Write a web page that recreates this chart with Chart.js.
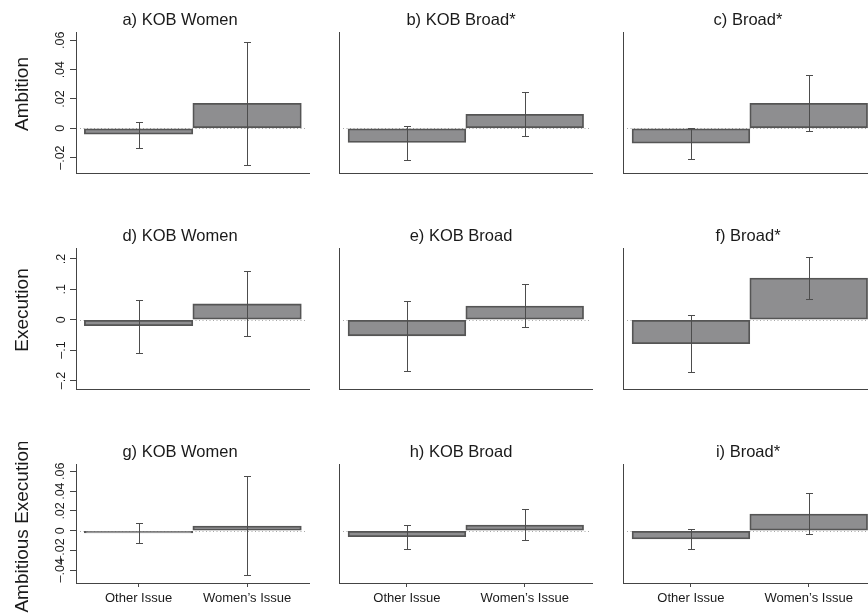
<!DOCTYPE html>
<html>
<head>
<meta charset="utf-8">
<script src="https://cdn.jsdelivr.net/npm/chart.js@4"></script>
<style>
  html, body { margin: 0; padding: 0; background: #fff; }
  body { width: 868px; height: 613px; position: relative; overflow: hidden; }
  canvas { position: absolute; }
</style>
</head>
<body>
<script>
// data
const categories = ['Other Issue', "Women\u2019s Issue"];
const rowTitles = ['Ambition', 'Execution', 'Ambitious Execution'];
const panelTitles = [
  ['a) KOB Women', 'b) KOB Broad*', 'c) Broad*'],
  ['d) KOB Women', 'e) KOB Broad', 'f) Broad*'],
  ['g) KOB Women', 'h) KOB Broad', 'i) Broad*']
];

// each entry: [Other Issue, Women's Issue], one pair per column
const ambitionEst = [[-0.004, 0.017], [-0.0096, 0.0096], [-0.0102, 0.0171]];
const ambitionLo = [[-0.0132, -0.025], [-0.0216, -0.0053], [-0.0212, -0.0016]];
const ambitionHi = [[0.0045, 0.059], [0.0018, 0.025], [0.0004, 0.0362]];

const executionEst = [[-0.02, 0.052], [-0.053, 0.045], [-0.079, 0.137]];
const executionLo = [[-0.111, -0.053], [-0.170, -0.024], [-0.172, 0.067]];
const executionHi = [[0.066, 0.159], [0.0615, 0.116], [0.014, 0.208]];

const ambExecEst = [[-0.0023, 0.0047], [-0.006, 0.0058], [-0.0084, 0.0169]];
const ambExecLo = [[-0.0124, -0.0447], [-0.0185, -0.009], [-0.0189, -0.0033]];
const ambExecHi = [[0.0078, 0.055], [0.0058, 0.0215], [0.0017, 0.0377]];

const ambitionTicks = [-0.02, 0, 0.02, 0.04, 0.06];
const ambitionTickLabels = ['\u2013.02', '0', '.02', '.04', '.06'];
const executionTicks = [-0.2, -0.1, 0, 0.1, 0.2];
const executionTickLabels = ['\u2013.2', '\u2013.1', '0', '.1', '.2'];
const ambExecTicks = [-0.04, -0.02, 0, 0.02, 0.04, 0.06];
const ambExecTickLabels = ['\u2013.04', '\u2013.02', '0', '.02', '.04', '.06'];

const rows = [
  { est: ambitionEst, lo: ambitionLo, hi: ambitionHi, ticks: ambitionTicks, labels: ambitionTickLabels },
  { est: executionEst, lo: executionLo, hi: executionHi, ticks: executionTicks, labels: executionTickLabels },
  { est: ambExecEst, lo: ambExecLo, hi: ambExecHi, ticks: ambExecTicks, labels: ambExecTickLabels }
];

// layout (page pixels)
const FONT = '"Liberation Sans", Arial, Helvetica, sans-serif';
const rowBox = [
  { top: 32, bottom: 173, min: -0.0305, max: 0.0657, tickPad: -3, labelDy: -8.5 },
  { top: 248, bottom: 389, min: -0.228, max: 0.236, tickPad: 0, labelDy: -8.5 },
  { top: 464, bottom: 583, min: -0.0528, max: 0.0674, tickPad: -3, labelDy: 3 }
];
// canvasLeft: where the canvas starts; titleX: centre of the panel title
const colBox = [
  { left: 76, right: 310, canvasLeft: 0, titleX: 180 },
  { left: 339, right: 593, canvasLeft: 329, titleX: 461 },
  { left: 623, right: 877, canvasLeft: 613, titleX: 748 }
];
const TITLE_H = 22;

// plugins
const zeroLine = {
  id: 'zeroLine',
  beforeDatasetsDraw(chart) {
    const { ctx, chartArea, scales: { y } } = chart;
    const py = Math.round(y.getPixelForValue(0)) + 0.5;
    ctx.save();
    ctx.strokeStyle = '#a8a8a8';
    ctx.lineWidth = 1;
    ctx.setLineDash([1, 2.5]);
    ctx.beginPath();
    ctx.moveTo(chartArea.left + 4, py);
    ctx.lineTo(chartArea.right - 4, py);
    ctx.stroke();
    ctx.restore();
  }
};

const errorBars = {
  id: 'errorBars',
  afterDatasetsDraw(chart) {
    const { ctx, scales: { x, y } } = chart;
    const ds = chart.data.datasets[0];
    ctx.save();
    ctx.strokeStyle = '#4d4d4d';
    ctx.lineWidth = 1;
    ds.errLo.forEach((lo, i) => {
      const px = Math.round(x.getPixelForValue(i)) + 0.5;
      const yl = Math.round(y.getPixelForValue(lo)) + 0.5;
      const yh = Math.round(y.getPixelForValue(ds.errHi[i])) + 0.5;
      ctx.beginPath();
      ctx.moveTo(px, yl); ctx.lineTo(px, yh);
      ctx.moveTo(px - 3.5, yl); ctx.lineTo(px + 3.5, yl);
      ctx.moveTo(px - 3.5, yh); ctx.lineTo(px + 3.5, yh);
      ctx.stroke();
    });
    ctx.restore();
  }
};

const rowLabel = {
  id: 'rowLabel',
  afterDraw(chart, args, opts) {
    if (!opts.text) return;
    const { ctx, chartArea } = chart;
    ctx.save();
    ctx.translate(opts.x, (chartArea.top + chartArea.bottom) / 2 + opts.dy);
    ctx.rotate(-Math.PI / 2);
    ctx.font = '19px ' + FONT;
    ctx.fillStyle = '#1a1a1a';
    ctx.textAlign = 'center';
    ctx.textBaseline = 'middle';
    ctx.fillText(opts.text, 0, 0);
    ctx.restore();
  }
};

function makePanel(r, c) {
  const row = rows[r], rb = rowBox[r], cb = colBox[c];
  const padB = r === 2 ? 30 : 14;
  // the title is centred between the layout's left padding and the plot's right edge
  const boxLeft = 2 * cb.titleX - cb.right;
  const padLeft = boxLeft - cb.canvasLeft;
  const yWidth = cb.left - boxLeft;
  const left = cb.canvasLeft;
  const width = cb.right - left;
  const top = rb.top - TITLE_H;
  const height = TITLE_H + (rb.bottom - rb.top) + padB;

  const canvas = document.createElement('canvas');
  canvas.width = width;
  canvas.height = height;
  canvas.style.left = left + 'px';
  canvas.style.top = top + 'px';
  canvas.style.width = width + 'px';
  canvas.style.height = height + 'px';
  document.body.appendChild(canvas);

  new Chart(canvas, {
    type: 'bar',
    data: {
      datasets: [{
        data: row.est[c].map((v, i) => ({ x: i, y: v })),
        errLo: row.lo[c],
        errHi: row.hi[c],
        backgroundColor: '#8e8e90',
        borderColor: '#555555',
        borderWidth: 1.8,
        borderSkipped: false,
        barPercentage: 1,
        categoryPercentage: 1
      }]
    },
    options: {
      responsive: false,
      animation: false,
      events: [],
      layout: { padding: { left: padLeft, right: 0, top: 0, bottom: 0 } },
      plugins: {
        legend: { display: false },
        tooltip: { enabled: false },
        title: {
          display: true,
          text: panelTitles[r][c],
          color: '#1a1a1a',
          font: { family: FONT, size: 16.5, weight: 'normal', lineHeight: '20px' },
          padding: { top: 0, bottom: 2 }
        },
        rowLabel: c === 0 ? { text: rowTitles[r], x: 23, dy: rb.labelDy } : {}
      },
      scales: {
        x: {
          type: 'linear',
          min: -0.577,
          max: 1.58,
          offset: false,
          afterBuildTicks: s => { s.ticks = categories.map((_, i) => ({ value: i })); },
          afterFit: s => { s.height = padB; },
          grid: { offset: false, drawOnChartArea: false, drawTicks: r === 2, tickLength: 4, tickColor: '#444', color: '#444' },
          border: { display: true, color: '#444', width: 1 },
          ticks: {
            display: r === 2, autoSkip: false, maxRotation: 0, padding: 4,
            color: '#1a1a1a', font: { family: FONT, size: 13 },
            callback: (v, i) => categories[i]
          }
        },
        y: {
          min: rb.min,
          max: rb.max,
          afterBuildTicks: s => { s.ticks = row.ticks.map(v => ({ value: v })); },
          afterFit: s => { s.width = yWidth; },
          grid: { drawOnChartArea: false, drawTicks: c === 0, tickLength: 6, tickColor: '#444', color: '#444' },
          border: { display: true, color: '#444', width: 1 },
          ticks: {
            display: c === 0, autoSkip: false, minRotation: 90, maxRotation: 90,
            crossAlign: 'center', padding: rb.tickPad,
            color: '#1a1a1a', font: { family: FONT, size: 12.5 },
            callback: (v, i) => row.labels[i]
          }
        }
      }
    },
    plugins: [zeroLine, errorBars, rowLabel]
  });
}

for (let r = 0; r < 3; r++) {
  for (let c = 0; c < 3; c++) makePanel(r, c);
}
</script>
</body>
</html>
